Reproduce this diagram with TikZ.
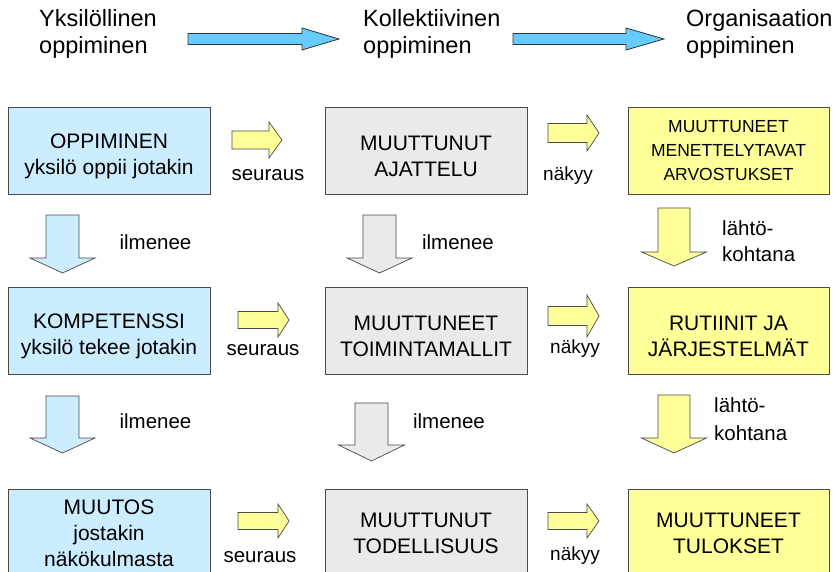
\documentclass[tikz,border=0pt]{standalone}
\usepackage{fontspec}
\setmainfont{Liberation Sans}

\definecolor{topblue}{HTML}{66CCFF}
\definecolor{paleblue}{HTML}{CCECFF}
\definecolor{palegray}{HTML}{EAEAEA}
\definecolor{paleyellow}{HTML}{FFFF99}
\definecolor{edgegray}{HTML}{4A4A4A}

% horizontal block arrow: {style}{x start}{x head}{x tip}{y mid}{half body}{half head}
\newcommand{\hblockarrow}[7]{%
  \draw[#1] (#2,{#5-#6}) -- (#3,{#5-#6}) -- (#3,{#5-#7}) -- (#4,#5)
    -- (#3,{#5+#7}) -- (#3,{#5+#6}) -- (#2,{#5+#6}) -- cycle;}
% vertical block arrow: {style}{x mid}{y start}{y head}{y tip}{half body}{half head}
\newcommand{\vblockarrow}[7]{%
  \draw[#1] ({#2-#6},#3) -- ({#2+#6},#3) -- ({#2+#6},#4) -- ({#2+#7},#4)
    -- (#2,#5) -- ({#2-#7},#4) -- ({#2-#6},#4) -- cycle;}
% taller first line, sets the two-line box texts a little lower
\newcommand{\toplift}{\rule{0pt}{26pt}}

\tikzset{
  box/.style={draw=edgegray, line width=0.8pt, minimum width=202pt,
    minimum height=87pt, inner sep=0pt, align=center,
    font=\fontsize{21}{26}\selectfont},
  title/.style={anchor=base west, inner sep=0pt, font=\fontsize{23.5}{27}\selectfont},
  lbl/.style={anchor=base, inner sep=0pt, font=\fontsize{20.5}{26}\selectfont},
  lblsmall/.style={anchor=base, inner sep=0pt, font=\fontsize{19}{24}\selectfont},
  lblleft/.style={anchor=base west, inner sep=0pt, font=\fontsize{20.5}{26}\selectfont},
  toparrow/.style={draw=black!80, line width=0.8pt, fill=topblue},
  smallarrow/.style={draw=edgegray, line width=0.7pt, fill=paleyellow},
  downblue/.style={draw=edgegray, line width=0.7pt, fill=paleblue},
  downgray/.style={draw=edgegray, line width=0.7pt, fill=palegray},
  downyellow/.style={draw=edgegray, line width=0.7pt, fill=paleyellow},
}

\begin{document}
\begin{tikzpicture}[x=1pt, y=-1pt]
\clip (0,0) rectangle (837,572);
\fill[white] (0,0) rectangle (837,572);

% column headings
\node[title] (h1a) at (39,27) {Yksilöllinen};
\node[title] (h1b) at (39,54) {oppiminen};
\node[title] (h2a) at (363,27) {Kollektiivinen};
\node[title] (h2b) at (363,54) {oppiminen};
\node[title] (h3a) at (686,27) {Organisaation};
\node[title] (h3b) at (686,54) {oppiminen};

\hblockarrow{toparrow}{188}{302}{339}{39}{5.5}{11}
\hblockarrow{toparrow}{513}{626}{664}{39}{5.5}{11}

% first row
\node[box, fill=paleblue] (b11) at (109,150.5) {\toplift OPPIMINEN\\yksilö oppii jotakin};
\node[box, fill=palegray] (b12) at (426,150.5) {\toplift MUUTTUNUT\\AJATTELU};
\node[box, fill=paleyellow, minimum width=201pt,
      font=\fontsize{17.5}{24}\selectfont] (b13) at (728.5,150.5)
      {MUUTTUNEET\\MENETTELYTAVAT\\ARVOSTUKSET};

% second row
\node[box, fill=paleblue] (b21) at (109,330.5) {\toplift KOMPETENSSI\\yksilö tekee jotakin};
\node[box, fill=palegray] (b22) at (426,330.5) {\toplift MUUTTUNEET\\TOIMINTAMALLIT};
\node[box, fill=paleyellow, minimum width=201pt] (b23) at (728.5,330.5) {\toplift RUTIINIT JA\\JÄRJESTELMÄT};

% third row
\node[box, fill=paleblue, minimum height=88pt] (b31) at (109,533) {MUUTOS\\jostakin\\näkökulmasta};
\node[box, fill=palegray, minimum height=88pt] (b32) at (426,533) {MUUTTUNUT\\TODELLISUUS};
\node[box, fill=paleyellow, minimum width=201pt, minimum height=88pt] (b33) at (728.5,533) {MUUTTUNEET\\TULOKSET};

% sideways arrows between columns
\hblockarrow{smallarrow}{232}{269}{282}{140}{9}{18}
\hblockarrow{smallarrow}{548}{587}{599}{133}{9.5}{18}
\hblockarrow{smallarrow}{238}{278}{289}{320}{8.5}{17}
\hblockarrow{smallarrow}{548}{587}{599}{316}{9.5}{21}
\hblockarrow{smallarrow}{238}{278}{289}{521}{8.5}{17}
\hblockarrow{smallarrow}{548}{587}{599}{521}{8.5}{17}

\node[lbl] (s1) at (268,181) {seuraus};
\node[lblsmall] (n1) at (568,181) {näkyy};
\node[lbl] (s2) at (263,355) {seuraus};
\node[lblsmall] (n2) at (575,353) {näkyy};
\node[lbl] (s3) at (260,562) {seuraus};
\node[lblsmall] (n3) at (575,560) {näkyy};

% downward arrows between rows
\vblockarrow{downblue}{62.5}{215}{258}{273}{16.5}{32.5}
\vblockarrow{downgray}{379.5}{215}{258}{273}{16.5}{32.5}
\vblockarrow{downyellow}{674}{208}{252}{266}{16}{32.5}
\vblockarrow{downblue}{62.5}{396}{438}{453}{16.5}{32.5}
\vblockarrow{downgray}{371.5}{403}{445}{461}{16.5}{33}
\vblockarrow{downyellow}{674}{395}{438}{453}{16}{32.5}

\node[lbl] (i1) at (155.5,249) {ilmenee};
\node[lbl] (i2) at (458,249) {ilmenee};
\node[lbl] (i3) at (155.5,428) {ilmenee};
\node[lbl] (i4) at (449,428) {ilmenee};

\node[lblleft] (l1a) at (722,235) {lähtö-};
\node[lblleft] (l1b) at (722,261) {kohtana};
\node[lblleft] (l2a) at (714,412) {lähtö-};
\node[lblleft] (l2b) at (714,440) {kohtana};
\end{tikzpicture}
\end{document}
